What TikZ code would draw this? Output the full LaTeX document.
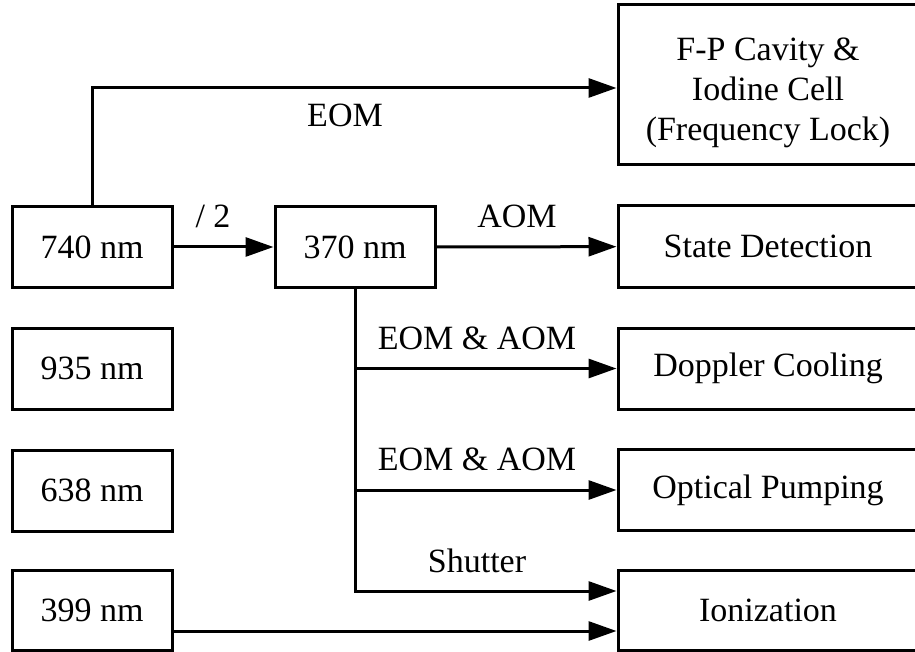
\documentclass[tikz,border=0pt]{standalone}
\usepackage{fontspec}
\setmainfont{Liberation Serif}
\usetikzlibrary{arrows.meta}
\begin{document}
\begin{tikzpicture}[x=1pt,y=-1pt,
  txt/.style={font=\fontsize{34}{40}\selectfont},
  box/.style={txt,draw,line width=3pt,inner sep=0pt,align=center,
    minimum width=#1,minimum height=81pt},
  box/.default=160pt,
  lab/.style={txt,anchor=base,inner sep=0pt},
  conn/.style={line width=3pt},
  arr/.style={conn,-{Triangle[length=28pt,width=19pt]}}]
\useasboundingbox (0,0) rectangle (915,652);
\fill[white] (0,0) rectangle (915,652);

% laser sources
\node[box] (n740) at (92,247) {740 nm};
\node[box] (n370) at (355,247) {370 nm};
\node[box] (n935) at (92,368.5) {935 nm};
\node[box] (n638) at (92,490.5) {638 nm};
\node[box,minimum height=80pt] (n399) at (92,610) {399 nm};

% destinations (right edges run past the page)
\node[box=300pt,minimum height=160pt] (fp) at (768,85)
  {\rule{0pt}{39pt}F-P Cavity \&\\Iodine Cell\\(Frequency Lock)};
\node[box=300pt] (sd) at (768,246.5) {State Detection};
\node[box=300pt] (dc) at (768,368.5) {Doppler Cooling};
\node[box=300pt] (op) at (768,490) {Optical Pumping};
\node[box=300pt,minimum height=80pt] (ion) at (768,610) {Ionization};

% connectors
\draw[arr] (n740.north) |- ([yshift=-3pt]fp.west);
\draw[arr] (n740) -- (n370);
\draw[arr] (n370) -- (sd);
\coordinate (shut) at ([yshift=19pt]ion.west);
\draw[arr] (n370.south) |- (shut);
\draw[arr] (n370.south |- dc.west) -- (dc.west);
\draw[arr] (n370.south |- op.west) -- (op.west);
\draw[arr] ([yshift=-21pt]n399.east) -- ([yshift=-21pt]ion.west);

% connector labels
\node[lab] (lEOM) at (345,127) {EOM};
\node[lab] (lhalf) at (213,228) {/ 2};
\node[lab] (lAOM) at (517,228) {AOM};
\node[lab] (lEA1) at (477,349) {EOM \& AOM};
\node[lab] (lEA2) at (477,470) {EOM \& AOM};
\node[lab] (lsh) at (477,572) {Shutter};
\end{tikzpicture}
\end{document}
